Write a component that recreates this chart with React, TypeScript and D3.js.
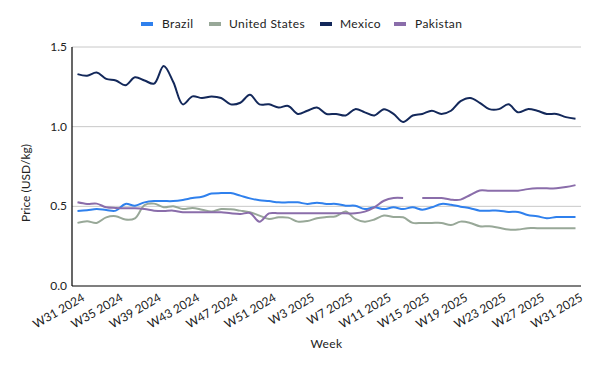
import React from 'react';
import * as d3 from 'd3';

const weeks: string[] = [];
for (let w = 31; w <= 52; w++) weeks.push(`W${w} 2024`);
for (let w = 1; w <= 31; w++) weeks.push(`W${w} 2025`);

const brazil = [
  0.47, 0.475, 0.483, 0.477, 0.473, 0.515, 0.504, 0.525, 0.533, 0.533, 0.533, 0.54, 0.552, 0.56, 0.58, 0.583, 0.583, 0.567,
  0.55, 0.538, 0.533, 0.525, 0.525, 0.525, 0.515, 0.523, 0.515, 0.515, 0.504, 0.504, 0.483, 0.494, 0.483, 0.494, 0.483,
  0.494, 0.479, 0.494, 0.515, 0.51, 0.498, 0.488, 0.473, 0.473, 0.473, 0.465, 0.465, 0.446, 0.438, 0.425, 0.433, 0.433, 0.433,
];
const unitedStates = [
  0.396, 0.406, 0.396, 0.431, 0.438, 0.417, 0.425, 0.508, 0.517, 0.494, 0.5, 0.483, 0.49, 0.479, 0.467, 0.483, 0.481, 0.473,
  0.463, 0.442, 0.421, 0.431, 0.429, 0.404, 0.408, 0.425, 0.433, 0.438, 0.467, 0.421, 0.404, 0.417, 0.442, 0.433, 0.431,
  0.396, 0.396, 0.396, 0.396, 0.383, 0.404, 0.396, 0.375, 0.375, 0.365, 0.354, 0.354, 0.363, 0.363, 0.363, 0.363, 0.363, 0.363,
];
const mexico = [
  1.33, 1.32, 1.34, 1.3, 1.29, 1.26, 1.31, 1.29, 1.27, 1.38, 1.28, 1.14, 1.19, 1.18, 1.19, 1.18, 1.14, 1.15,
  1.2, 1.14, 1.14, 1.12, 1.13, 1.08, 1.1, 1.12, 1.08, 1.08, 1.07, 1.11, 1.09, 1.07, 1.11, 1.08, 1.03,
  1.07, 1.08, 1.1, 1.08, 1.1, 1.16, 1.18, 1.15, 1.11, 1.11, 1.14, 1.09, 1.11, 1.1, 1.08, 1.08, 1.06, 1.05,
];
const pakistan: (number | null)[] = [
  0.525, 0.515, 0.517, 0.494, 0.49, 0.488, 0.488, 0.483, 0.473, 0.471, 0.473, 0.463, 0.463, 0.463, 0.463, 0.463, 0.456, 0.452,
  0.458, 0.404, 0.456, 0.456, 0.456, 0.456, 0.456, 0.456, 0.456, 0.456, 0.456, 0.456, 0.467, 0.494, 0.535, 0.552, 0.552,
  null, 0.552, 0.552, 0.552, 0.542, 0.542, 0.571, 0.6, 0.598, 0.598, 0.598, 0.598, 0.608, 0.613, 0.613, 0.613, 0.621, 0.633,
];

const series = [
  { name: 'Brazil', color: '#2F80ED', values: brazil },
  { name: 'United States', color: '#98A898', values: unitedStates },
  { name: 'Mexico', color: '#13285A', values: mexico },
  { name: 'Pakistan', color: '#8A6DAA', values: pakistan },
];

const yTicks = [0, 0.5, 1.0, 1.5];
const font = 'Lato, sans-serif';

export default function App() {
  const width = 600;
  const height = 371;
  const left = 72;
  const right = 581;
  const top = 47;
  const bottom = 286;

  const x = d3.scaleLinear().domain([0, weeks.length - 1]).range([77.5, 575.5]);
  const y = d3.scaleLinear().domain([0, 1.5]).range([bottom, top]);

  const line = d3
    .line<number | null>()
    .defined((d) => d != null)
    .x((_, i) => x(i))
    .y((d) => y(d as number))
    .curve(d3.curveCatmullRom);

  const tickIdx = weeks.map((_, i) => i).filter((i) => i % 4 === 0);

  // legend layout (swatch x, text x)
  const legendItems = [
    { ...series[0], sx: 141, tx: 162 },
    { ...series[1], sx: 209, tx: 229 },
    { ...series[2], sx: 320, tx: 340 },
    { ...series[3], sx: 394, tx: 415 },
  ];

  return (
    <svg width={width} height={height} style={{ position: 'absolute', left: 0, top: 0, background: '#fff' }} fontFamily={font}>
      {/* legend */}
      {legendItems.map((s) => (
        <g key={s.name}>
          <rect x={s.sx} y={22} width={12} height={4} fill={s.color} />
          <text x={s.tx} y={28} fontSize={12} fill="#222" letterSpacing={0.4}>
            {s.name}
          </text>
        </g>
      ))}

      {/* gridlines */}
      {yTicks.filter((t) => t > 0).map((t) => (
        <line key={t} x1={left} x2={right} y1={y(t)} y2={y(t)} stroke="#c8c8c8" strokeWidth={1} />
      ))}

      {/* y tick labels */}
      {yTicks.map((t) => (
        <text key={t} x={left - 5} y={y(t) + 4} fontSize={12} textAnchor="end" fill="#222">
          {t.toFixed(1)}
        </text>
      ))}

      {/* series */}
      {series.map((s) => (
        <path key={s.name} d={line(s.values) || ''} fill="none" stroke={s.color} strokeWidth={2} />
      ))}

      {/* axes */}
      <line x1={left} x2={left} y1={top} y2={bottom} stroke="#000" strokeWidth={1.2} />
      <line x1={left} x2={right} y1={bottom} y2={bottom} stroke="#000" strokeWidth={1.2} />

      {/* x tick labels */}
      {tickIdx.map((i) => (
        <text
          key={i}
          transform={`translate(${x(i) + 8},${bottom + 14}) rotate(-30)`}
          fontSize={12}
          textAnchor="end"
          fill="#222"
        >
          {weeks[i]}
        </text>
      ))}

      <text x={(left + right) / 2} y={348} fontSize={12} textAnchor="middle" fill="#222" letterSpacing={0.4}>
        Week
      </text>
      <text transform={`translate(30,183) rotate(-90)`} fontSize={12} textAnchor="middle" fill="#222">
        Price (USD/kg)
      </text>
    </svg>
  );
}
